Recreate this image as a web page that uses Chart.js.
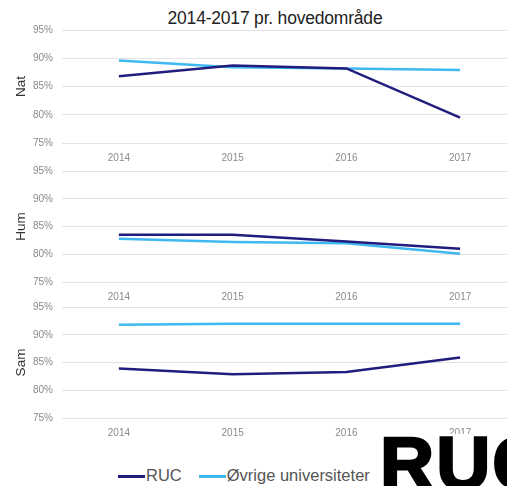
<!DOCTYPE html>
<html>
<head>
<meta charset="utf-8">
<script src="https://cdn.jsdelivr.net/npm/chart.js@4.4.1/dist/chart.umd.min.js"></script>
<style>
  html, body { margin: 0; padding: 0; background: #fff; overflow: hidden; width: 507px; height: 486px; }
  #wrap { position: relative; width: 507px; height: 486px; overflow: hidden; }
  .panel { position: absolute; left: 0; width: 520px; }
  #title { position: absolute; top: 8px; left: 0; width: 550px; text-align: center;
           font: 17.5px "Liberation Sans", Arial, sans-serif; color: #222; letter-spacing: -0.2px; }
  #legend { position: absolute; top: 465px; left: 118px; height: 20px;
            font: 16.5px "Liberation Sans", Arial, sans-serif; color: #555; white-space: nowrap; }
  #legend .item { display: inline-block; vertical-align: middle; margin-right: 17px; }
  #legend .sw { display: inline-block; width: 27px; height: 3px; vertical-align: middle; margin-right: 1px; }
  #logo { position: absolute; left: 378px; top: 434px; width: 140px; height: 60px; background: #fff;
          font: bold 75px "Liberation Sans", Arial, sans-serif; color: #000; letter-spacing: 2px;
          -webkit-text-stroke: 2.5px #000; line-height: 60px; overflow: visible; }
  #logo span { position: absolute; left: 2px; top: -14px; line-height: normal; }
</style>
</head>
<body>
<div id="wrap">
  <div id="title">2014-2017 pr. hovedområde</div>
  <div class="panel" style="top:0px;height:165px"><canvas id="c1"></canvas></div>
  <div class="panel" style="top:156px;height:148px"><canvas id="c2"></canvas></div>
  <div class="panel" style="top:292px;height:148px"><canvas id="c3"></canvas></div>
  <div id="legend"></div>
  <div id="logo"><span>RUC</span></div>
</div>
<script>
const years = ['2014', '2015', '2016', '2017'];
const seriesNames = ['RUC', 'Øvrige universiteter'];
const seriesColors = ['#211d7e', '#3fb7f0'];
const panelNames = ['Nat', 'Hum', 'Sam'];
const yTicks = [75, 80, 85, 90, 95];

const natRUC    = [86.8, 88.7, 88.2, 79.5];
const natOvrige = [89.6, 88.4, 88.2, 87.9];
const humRUC    = [83.5, 83.5, 82.3, 81.0];
const humOvrige = [82.8, 82.2, 82.0, 80.1];
const samRUC    = [83.9, 82.9, 83.3, 85.9];
const samOvrige = [91.8, 92.0, 92.0, 92.0];

const panelData = [
  [natRUC, natOvrige],
  [humRUC, humOvrige],
  [samRUC, samOvrige]
];

const FONT = '"Liberation Sans", Arial, sans-serif';

function makePanel(id, name, data, padTop) {
  new Chart(document.getElementById(id), {
    type: 'line',
    data: {
      labels: years,
      datasets: data.map((vals, i) => ({
        label: seriesNames[i],
        data: vals,
        borderColor: seriesColors[i],
        backgroundColor: seriesColors[i],
        borderWidth: 2.5,
        pointRadius: 0,
        tension: 0,
        order: i === 0 ? 0 : 1
      }))
    },
    options: {
      responsive: true,
      maintainAspectRatio: false,
      animation: false,
      layout: { padding: { top: padTop, right: 3, bottom: 0, left: 0 } },
      plugins: { legend: { display: false }, tooltip: { enabled: false } },
      scales: {
        x: {
          offset: true,
          grid: { display: false, drawTicks: false },
          border: { display: false },
          ticks: { color: '#8a8a8a', font: { family: FONT, size: 10 }, padding: 9, maxRotation: 0 },
          afterFit: s => { s.height = 22; }
        },
        y: {
          min: yTicks[0],
          max: yTicks[yTicks.length - 1],
          afterBuildTicks: s => { s.ticks = yTicks.map(v => ({ value: v })); },
          grid: { color: '#e3e3e3', lineWidth: 1, drawTicks: false },
          border: { display: false },
          ticks: { color: '#8a8a8a', font: { family: FONT, size: 10 }, padding: 9,
                   callback: v => v + '%' },
          title: { display: true, text: name, color: '#333', font: { family: FONT, size: 13.5 },
                   padding: { top: 13, bottom: 0 } },
          afterFit: s => { s.width = 62; }
        }
      }
    }
  });
}

makePanel('c1', panelNames[0], panelData[0], 30);
makePanel('c2', panelNames[1], panelData[1], 10);
makePanel('c3', panelNames[2], panelData[2], 10);

const leg = document.getElementById('legend');
seriesNames.forEach((n, i) => {
  const it = document.createElement('span');
  it.className = 'item';
  const sw = document.createElement('span');
  sw.className = 'sw';
  sw.style.background = seriesColors[i];
  it.appendChild(sw);
  it.appendChild(document.createTextNode(n));
  leg.appendChild(it);
});
</script>
</body>
</html>
